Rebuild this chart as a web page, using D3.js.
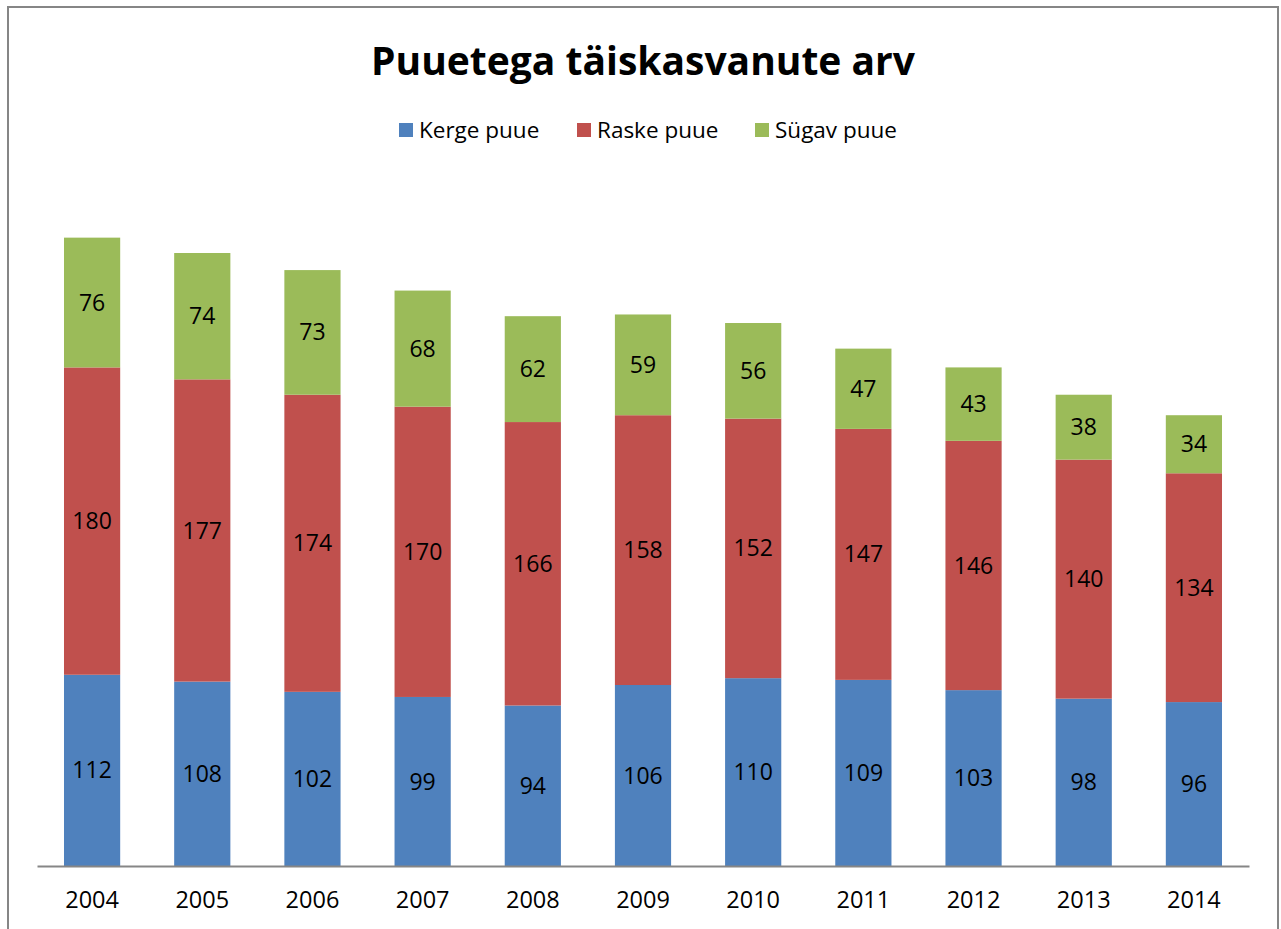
<!DOCTYPE html>
<html>
<head>
<meta charset="utf-8">
<script src="https://d3js.org/d3.v7.min.js"></script>
<style>
    body { margin: 0; background: #fff; }
    svg { display: block; font-family: "Open Sans", "Noto Sans", sans-serif; }
    .frame { fill: #fff; stroke: #868686; stroke-width: 2px; }
    .axis path, .axis line { stroke: #868686; }
    .axis text { font-family: "Open Sans", "Noto Sans", sans-serif; font-size: 23.5px; fill: #000; }
    .label { font-size: 23px; fill: #000; }
    .legend text { font-size: 22.5px; fill: #000; }
</style>
</head>
<body>
<svg width="1281" height="929"></svg>
<script>
    // andmed
    const years = ["2004", "2005", "2006", "2007", "2008", "2009", "2010", "2011", "2012", "2013", "2014"];
    const kerge = [112, 108, 102, 99, 94, 106, 110, 109, 103, 98, 96];
    const raske = [180, 177, 174, 170, 166, 158, 152, 147, 146, 140, 134];
    const sugav = [76, 74, 73, 68, 62, 59, 56, 47, 43, 38, 34];
    const seriesNames = ["Kerge puue", "Raske puue", "Sügav puue"];
    const seriesColors = ["#4f81bd", "#c0504d", "#9bbb59"];

    const svg = d3.select("svg");

    // raam
    svg.append("rect")
        .attr("class", "frame")
        .attr("x", 8).attr("y", 7)
        .attr("width", 1270).attr("height", 940);

    const margin = {top: 183, left: 37, right: 32, bottom: 63};
    const width = 1281 - margin.left - margin.right,
          height = 929 - margin.top - margin.bottom;

    const g = svg.append("g")
        .attr("transform", `translate(${margin.left},${margin.top})`);

    const x = d3.scaleBand()
        .domain(years)
        .range([0, width])
        .paddingInner(0.49)
        .paddingOuter(0.245);

    const y = d3.scaleLinear()
        .domain([0, 400])
        .range([height, 0]);

    const rows = years.map((yr, i) => ({year: yr, k: kerge[i], r: raske[i], s: sugav[i]}));
    const stack = d3.stack().keys(["k", "r", "s"]);
    const stacked = stack(rows);

    const layer = g.selectAll(".layer")
        .data(stacked)
        .enter().append("g")
        .attr("class", "layer")
        .attr("fill", (d, i) => seriesColors[i]);

    layer.selectAll("rect")
        .data(d => d)
        .enter().append("rect")
        .attr("x", d => x(d.data.year))
        .attr("y", d => y(d[1]))
        .attr("width", x.bandwidth())
        .attr("height", d => y(d[0]) - y(d[1]));

    layer.selectAll("text")
        .data(d => d)
        .enter().append("text")
        .attr("class", "label")
        .attr("x", d => x(d.data.year) + x.bandwidth() / 2)
        .attr("y", d => (y(d[0]) + y(d[1])) / 2)
        .attr("dy", "0.35em")
        .attr("text-anchor", "middle")
        .text(d => d[1] - d[0]);

    // x telg
    const xAxis = g.append("g")
        .attr("class", "axis")
        .attr("transform", `translate(0,${height})`)
        .call(d3.axisBottom(x).tickSize(0).tickPadding(25).tickSizeOuter(0));
    xAxis.attr("font-family", null).attr("font-size", null);
    xAxis.select(".domain").attr("stroke-width", 2);

    // pealkiri
    svg.append("text")
        .attr("x", 643)
        .attr("y", 75)
        .attr("text-anchor", "middle")
        .style("font-size", "39px")
        .style("font-weight", "bold")
        .text("Puuetega täiskasvanute arv");

    // legend
    const legendX = [399, 577, 755];
    const legend = svg.selectAll(".legend")
        .data(seriesNames)
        .enter().append("g")
        .attr("class", "legend")
        .attr("transform", (d, i) => `translate(${legendX[i]},130)`);

    legend.append("rect")
        .attr("x", 0).attr("y", -7)
        .attr("width", 14).attr("height", 14)
        .attr("fill", (d, i) => seriesColors[i]);

    legend.append("text")
        .attr("x", 20)
        .attr("dy", "0.35em")
        .text(d => d);
</script>
</body>
</html>
